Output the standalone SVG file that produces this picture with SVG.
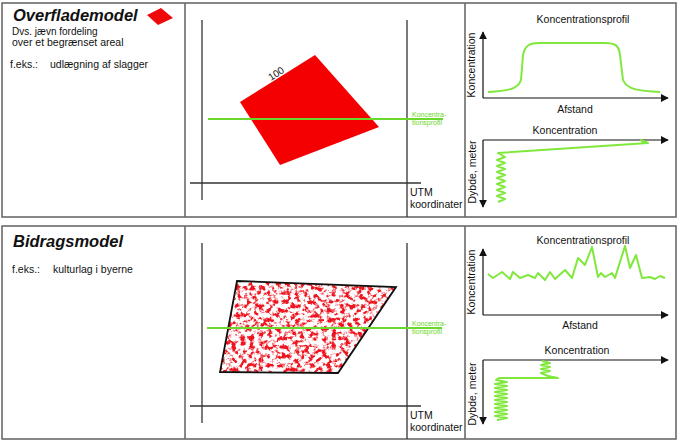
<svg xmlns="http://www.w3.org/2000/svg" width="680" height="444" viewBox="0 0 680 444">
<style>
  .frame{fill:none;stroke:#6a6a6a;stroke-width:1.6}
  .ax{stroke:#333;stroke-width:1.3;fill:none}
  .axa{stroke:#111;stroke-width:1.2;fill:none}
  .t{font-family:"Liberation Sans",Arial,sans-serif;fill:#111}
  .title{font-size:16.5px;font-weight:bold;font-style:italic}
  .s{font-size:10.5px}
  .c{font-size:10.5px;text-anchor:middle}
  .g{stroke:#80e83c;stroke-width:2;fill:none;stroke-linejoin:round}
  .gl{stroke:#6ad82a;stroke-width:2.2}
  .tiny{font-family:"Liberation Sans",Arial,sans-serif;font-size:7px;fill:#6ad82a}
</style>
<defs>
  <marker id="ah" viewBox="0 0 10 10" refX="9" refY="5" markerWidth="8" markerHeight="8" markerUnits="userSpaceOnUse" orient="auto">
    <path d="M0,0 L10,5 L0,10 z" fill="#111"/>
  </marker>
  <filter id="speck" x="0" y="0" width="1" height="1" color-interpolation-filters="sRGB">
    <feTurbulence type="fractalNoise" baseFrequency="0.22" numOctaves="3" seed="11" result="n"/>
    <feColorMatrix in="n" type="matrix" values="0 0 0 0 0.93  0 0 0 0 0.08  0 0 0 0 0.12  5 0 0 0 -2.3" result="m"/>
    <feComposite in="m" in2="SourceGraphic" operator="in"/>
  </filter>
</defs>

<!-- panel frames -->
<g id="frames">
  <rect class="frame" x="2" y="3" width="674" height="214"/>
  <line class="frame" x1="185" y1="3" x2="185" y2="217"/>
  <line class="frame" x1="465" y1="3" x2="465" y2="217"/>
  <rect class="frame" x="2" y="226" width="674" height="213"/>
  <line class="frame" x1="185" y1="226" x2="185" y2="439"/>
  <line class="frame" x1="465" y1="226" x2="465" y2="439"/>
</g>

<!-- top left text -->
<g id="overflade-text">
  <text class="t title" x="13" y="21">Overflademodel</text>
  <polygon points="147,15 161,8 173,18 158,25" fill="#ee0a0a"/>
  <text class="t" font-size="10" x="12" y="34.5">Dvs. jævn fordeling</text>
  <text class="t s" x="12" y="45.5">over et begrænset areal</text>
  <text class="t s" x="10" y="68">f.eks.:</text>
  <text class="t s" x="50" y="68">udlægning af slagger</text>
</g>

<!-- top middle map -->
<g id="overflade-map">
  <line class="ax" x1="202" y1="20" x2="202" y2="200"/>
  <line class="ax" x1="190" y1="183" x2="421" y2="183"/>
  <line class="ax" x1="407" y1="20" x2="407" y2="217"/>
  <polygon points="240,102 315,55 379,127 280,165" fill="#f40000"/>
  <text class="t" font-size="10" transform="translate(271,81) rotate(-33)">100</text>
  <line class="gl" x1="208" y1="119" x2="443" y2="119"/>
  <text class="tiny" x="412" y="117">Koncentra-</text>
  <text class="tiny" x="412" y="125">tionsprofil</text>
  <text class="t" font-size="10.5" x="410" y="196">UTM</text>
  <text class="t" font-size="10.5" x="410" y="208">koordinater</text>
</g>

<!-- top right charts -->
<g id="overflade-profil">
  <text class="t c" x="583" y="23">Koncentrationsprofil</text>
  <line class="axa" x1="483" y1="98" x2="483" y2="32" marker-end="url(#ah)"/>
  <line class="axa" x1="483" y1="98" x2="668" y2="98" marker-end="url(#ah)"/>
  <text class="t c" transform="translate(475,65) rotate(-90)">Koncentration</text>
  <text class="t c" x="575" y="113">Afstand</text>
  <path class="g" d="M488,92 C505,91 518,90 521,80 L523,55 C525,45 530,43 540,43 L605,43 C616,43 619,46 620,55 L623,80 C627,90 640,91 660,92"/>
</g>
<g id="overflade-dybde">
  <text class="t c" x="565" y="134">Koncentration</text>
  <line class="axa" x1="483" y1="140" x2="668" y2="140" marker-end="url(#ah)"/>
  <line class="axa" x1="483" y1="140" x2="483" y2="207" marker-end="url(#ah)"/>
  <text class="t c" transform="translate(476,172) rotate(-90)">Dybde, meter</text>
  <path class="g" stroke-width="1.6" d="M498,202 L505,199 L497,196 L505,193 L497,190 L505,187 L497,184 L505,181 L497,178 L505,175 L497,172 L505,169 L497,166 L505,163 L497,160 L505,157 L498,153 L648,143 L641,140 L644,144"/>
</g>

<!-- bottom left text -->
<g id="bidrag-text">
  <text class="t title" x="13" y="247">Bidragsmodel</text>
  <text class="t s" x="12" y="273">f.eks.:</text>
  <text class="t s" x="53" y="273">kulturlag i byerne</text>
</g>

<!-- bottom middle map -->
<g id="bidrag-map">
  <line class="ax" x1="202" y1="243" x2="202" y2="423"/>
  <line class="ax" x1="190" y1="406" x2="421" y2="406"/>
  <line class="ax" x1="407" y1="243" x2="407" y2="439"/>
  <polygon points="237,281 396,287 338,373 220,372" fill="#fff"/>
  <polygon points="237,281 396,287 338,373 220,372" fill="#fff" filter="url(#speck)"/>
  <polygon points="237,281 396,287 338,373 220,372" fill="none" stroke="#111" stroke-width="1.8"/>
  <line class="gl" x1="207" y1="328" x2="442" y2="328"/>
  <text class="tiny" x="412" y="326">Koncentra-</text>
  <text class="tiny" x="412" y="334">tionsprofil</text>
  <text class="t" font-size="10.5" x="410" y="419">UTM</text>
  <text class="t" font-size="10.5" x="410" y="431">koordinater</text>
</g>

<!-- bottom right charts -->
<g id="bidrag-profil">
  <text class="t c" x="583" y="244">Koncentrationsprofil</text>
  <line class="axa" x1="483" y1="315" x2="483" y2="249" marker-end="url(#ah)"/>
  <line class="axa" x1="483" y1="315" x2="668" y2="315" marker-end="url(#ah)"/>
  <text class="t c" transform="translate(475,282) rotate(-90)">Koncentration</text>
  <text class="t c" x="580" y="329">Afstand</text>
  <path class="g" d="M488,274 L493,278 L502,272 L510,279 L513,272 L520,278 L528,275 L535,278 L538,273 L545,280 L550,272 L555,279 L565,270 L572,278 L578,258 L585,265 L592,247 L598,277 L601,273 L605,277 L612,273 L615,278 L625,246 L630,268 L636,255 L642,278 L650,277 L655,279 L660,276 L665,278"/>
</g>
<g id="bidrag-dybde">
  <text class="t c" x="577" y="354">Koncentration</text>
  <line class="axa" x1="483" y1="360" x2="668" y2="360" marker-end="url(#ah)"/>
  <line class="axa" x1="483" y1="360" x2="483" y2="424" marker-end="url(#ah)"/>
  <text class="t c" transform="translate(476,394) rotate(-90)">Dybde, meter</text>
  <path class="g" stroke-width="1.6" d="M497,420 L507,418 L495,416 L507,414 L495,412 L507,410 L495,408 L507,406 L495,404 L507,402 L495,400 L507,398 L495,396 L507,394 L495,392 L507,390 L495,388 L507,386 L495,384 L507,382 L496,380 L499,378 L558,378 L548,376 L541,373 L550,371 L541,369 L550,367 L541,365 L550,363 L542,361"/>
</g>
</svg>
